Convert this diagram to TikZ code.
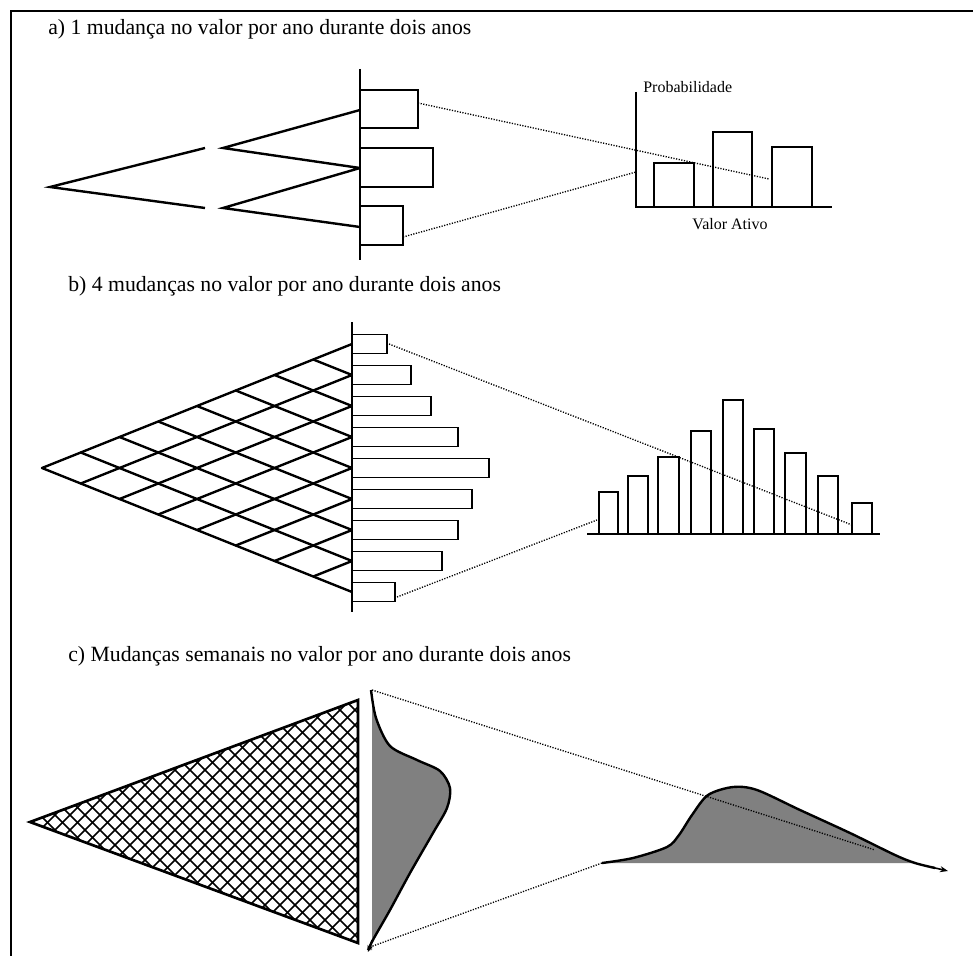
\documentclass[tikz,border=0pt]{standalone}
\usepackage{fontspec}
\setmainfont{Liberation Serif}
\usetikzlibrary{arrows.meta}
\tikzset{
  frameline/.style={line width=1.5pt},
  treeline/.style={line width=1.8pt},
  barbox/.style={draw,line width=1.4pt,fill=white},
  axisline/.style={line width=1.5pt},
  dotline/.style={line width=1pt,dash pattern=on 0.9pt off 1.1pt},
  title/.style={anchor=base west,inner sep=0pt,font=\fontsize{16.3}{19}\selectfont},
  smalllabel/.style={inner sep=0pt,font=\fontsize{12}{14}\selectfont},
  hatch/.style={line width=1.1pt},
  shade/.style={fill=black!50},
}
\begin{document}
\begin{tikzpicture}[x=0.75pt,y=-0.75pt]
\useasboundingbox (0,0) rectangle (974,956);
% frame
\draw[frameline] (11,956) -- (11,11) -- (973,11);

% ---------------- a) ----------------
\node[title] (ta) at (48,35) {a) 1 mudança no valor por ano durante dois anos};
\coordinate (a0) at (50,187);
\coordinate (a1u) at (205,148); \coordinate (a1d) at (205,208);
\coordinate (a2u) at (223,148); \coordinate (a2d) at (223,208);
\coordinate (a3t) at (360,110); \coordinate (a3m) at (360,168); \coordinate (a3b) at (360,227);
\draw[treeline] (a1u) -- (a0) -- (a1d);
\draw[treeline] (a3t) -- (a2u) -- (a3m) -- (a2d) -- (a3b);
\draw[axisline] (360,69) -- (360,260);
\draw[barbox] (360,90) rectangle (418,128);
\draw[barbox] (360,148) rectangle (433,187);
\draw[barbox] (360,206) rectangle (403,245);
% chart a
\draw[axisline] (636,92) -- (636,207) -- (832,207);
\draw[barbox] (654,163) rectangle (694,207);
\draw[barbox] (713,132) rectangle (752,207);
\draw[barbox] (772,147) rectangle (812,207);
\node[smalllabel,anchor=west] (prob) at (643,87) {Probabilidade};
\node[smalllabel] (valor) at (730,224) {Valor Ativo};
\coordinate (ad1s) at (418,103); \coordinate (ad1e) at (769,179);
\coordinate (ad2s) at (403,237); \coordinate (ad2e) at (636,172);
\draw[dotline] (ad1s) -- (ad1e);
\draw[dotline] (ad2s) -- (ad2e);

% ---------------- b) ----------------
\node[title] (tb) at (68,291) {b) 4 mudanças no valor por ano durante dois anos};
\foreach \i in {0,...,7}{
  \draw[treeline,line cap=round] ({42+\i*38.75},{468+\i*15.5}) -- (352,{468+(2*\i-8)*15.5});
  \draw[treeline,line cap=round] ({42+\i*38.75},{468-\i*15.5}) -- (352,{468-(2*\i-8)*15.5});
}
\draw[axisline] (352,322) -- (352,612);
\foreach \k/\len in {0/35,1/59,2/79,3/106,4/137,5/120,6/106,7/90,8/43}{
  \draw[barbox] (352,{344+\k*31-9.5}) rectangle ({352+\len},{344+\k*31+9.5});
}
% histogram b
\draw[axisline] (587,534) -- (880,534);
\foreach \xa/\xb/\tp in {599/618/492,628/648/476,658/679/457,691/711/431,723/743/400,754/774/429,785/806/453,818/838/476,852/872/503}{
  \draw[barbox] (\xa,534) rectangle (\xb,\tp);
}
\coordinate (bd1s) at (389,344); \coordinate (bd1e) at (852,525);
\coordinate (bd2s) at (397,597); \coordinate (bd2e) at (597,520);
\draw[dotline] (bd1s) -- (bd1e);
\draw[dotline] (bd2s) -- (bd2e);

% ---------------- c) ----------------
\node[title] (tc) at (68,661) {c) Mudanças semanais no valor por ano durante dois anos};
\begin{scope}
  \clip (30,822) -- (358,700) -- (358,943) -- cycle;
  \foreach \c in {0,15,...,1500}{
    \draw[hatch] (\c,0) -- ++(-1000,1000);
    \draw[hatch] ({\c-1000},0) -- ++(1000,1000);
  }
\end{scope}
\draw[line width=2pt,line join=miter] (30,822) -- (358,700) -- (358,943) -- cycle;
% left distribution
\fill[shade] plot[smooth] coordinates {(371,690)(376,718)(390,746)(417,760)(440,771)(450,788)(447,808)(433,833)(410,873)(390,910)(374,938)(368,950)} -- (372,950) -- (372,690) -- cycle;
\draw[line width=1.8pt] plot[smooth] coordinates {(371,690)(376,718)(390,746)(417,760)(440,771)(450,788)(447,808)(433,833)(410,873)(390,910)(374,938)(368,950)};
\draw[line width=1pt,-{Stealth[length=5pt,width=4pt]}] (372,940) -- (368,952);
% right distribution
\fill[shade] plot[smooth] coordinates {(602,863)(633,858)(667,847)(679,835)(692,815)(708,795)(733,787)(757,790)(800,810)(850,833)(895,855)(915,863)} -- cycle;
\draw[line width=1.8pt] plot[smooth] coordinates {(602,863)(633,858)(667,847)(679,835)(692,815)(708,795)(733,787)(757,790)(800,810)(850,833)(895,855)(915,863)(935,868)};
\draw[line width=1.2pt,-{Stealth[length=6pt,width=4.5pt]}] (933,867.5) -- (948,871);
\coordinate (cd1s) at (372,690); \coordinate (cd1e) at (875,850);
\coordinate (cd2s) at (370,947); \coordinate (cd2e) at (602,863);
\draw[dotline] (cd1s) -- (cd1e);
\draw[dotline] (cd2s) -- (cd2e);
\end{tikzpicture}
\end{document}
